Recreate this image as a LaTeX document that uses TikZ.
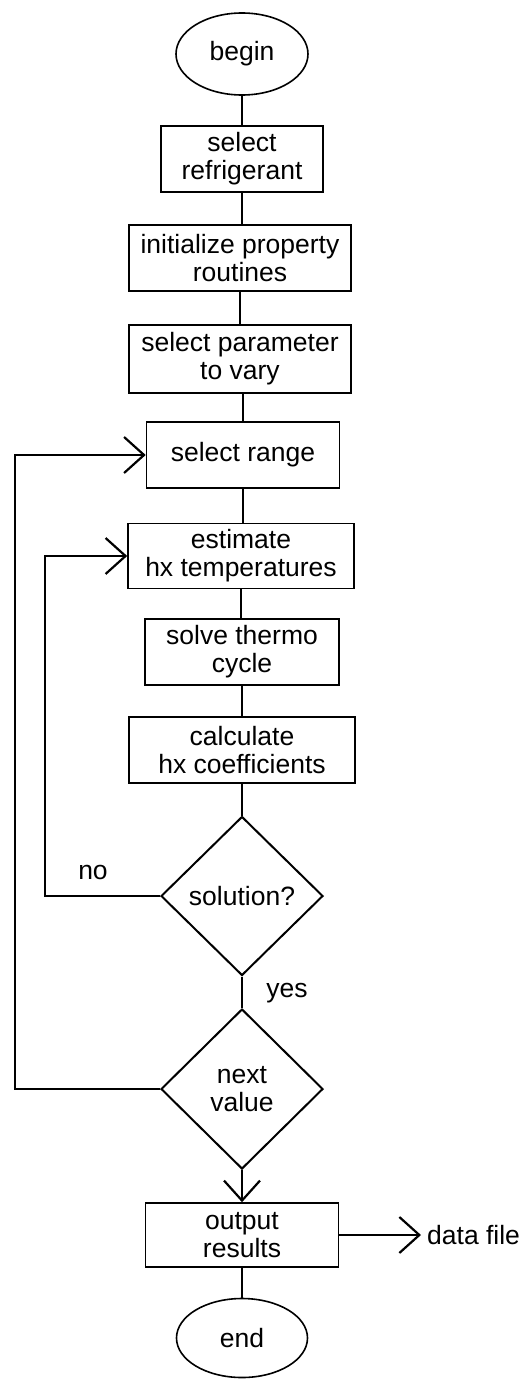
\documentclass[tikz,border=0pt]{standalone}
\usepackage{fontspec}
\setmainfont{Liberation Sans}
\usetikzlibrary{shapes.geometric,arrows.meta}
\begin{document}
\begin{tikzpicture}[x=1pt,y=-1pt,
  every node/.style={font=\fontsize{26.5}{28}\selectfont, inner sep=0pt, align=center},
  stepbox/.style={draw, line width=1.6pt, rectangle},
  term/.style={draw, line width=1.6pt, ellipse},
  decide/.style={draw, line width=2pt, diamond},
  flow/.style={line width=1.8pt},
  arr/.style={line width=1.8pt, -{Straight Barb[length=20pt,width=36pt,line width=2.2pt]}}
]
\useasboundingbox (0,0) rectangle (526,1381);
\node[term, minimum width=132pt, minimum height=82pt] (begin) at (242,54) {begin};
\node[stepbox, minimum width=162pt, minimum height=66pt] (ref) at (242,159) {select\\refrigerant};
\node[stepbox, minimum width=222pt, minimum height=66pt] (init) at (240,258) {initialize property\\routines};
\node[stepbox, minimum width=222pt, minimum height=68pt] (param) at (240,359) {select parameter\\to vary};
\node[stepbox, minimum width=193pt, minimum height=66pt] (range) at (243,455) {select range};
\node[stepbox, minimum width=226pt, minimum height=65pt] (est) at (241,556) {estimate\\hx temperatures};
\node[stepbox, minimum width=194pt, minimum height=66pt] (solve) at (242,652) {solve thermo\\cycle};
\node[stepbox, minimum width=226pt, minimum height=66pt] (calc) at (242,750) {calculate\\hx coefficients};
\node[decide, minimum width=162pt, minimum height=159pt] (sol) at (242,896) {solution?};
\node[decide, minimum width=162pt, minimum height=160pt] (next) at (242,1089) {next\\value};
\node[stepbox, minimum width=193pt, minimum height=64pt] (out) at (242,1235) {output\\results};
\node[term, minimum width=131pt, minimum height=79pt] (end) at (242,1338) {end};
\node[anchor=west] (file) at (427,1235) {data file};
\coordinate (filetip) at (421,1235);
\node (no) at (93,872) {no};
\node (yes) at (287,993) {yes};
\coordinate (c1) at (45,896);
\coordinate (c2) at (45,556);
\coordinate (d1) at (15,1089);
\coordinate (d2) at (15,455);

\draw[flow] (begin) -- (ref);
\draw[flow] (ref) -- (ref |- init.north);
\draw[flow] (init) -- (init |- param.north);
\draw[flow] (param.south -| range) -- (range);
\draw[flow] (range) -- (range |- est.north);
\draw[flow] (est) -- (est |- solve.north);
\draw[flow] (solve) -- (calc);
\draw[flow] (calc) -- (sol);
\draw[flow] (sol) -- (next);
\draw[arr] (sol.west) -- (c1) -- (c2) -- (est.west);
\draw[arr] (next.west) -- (d1) -- (d2) -- (range.west);
\draw[arr] (next.south) -- (out.north);
\draw[arr] (out.east) -- (filetip);
\draw[flow] (out) -- (end);
\end{tikzpicture}
\end{document}
